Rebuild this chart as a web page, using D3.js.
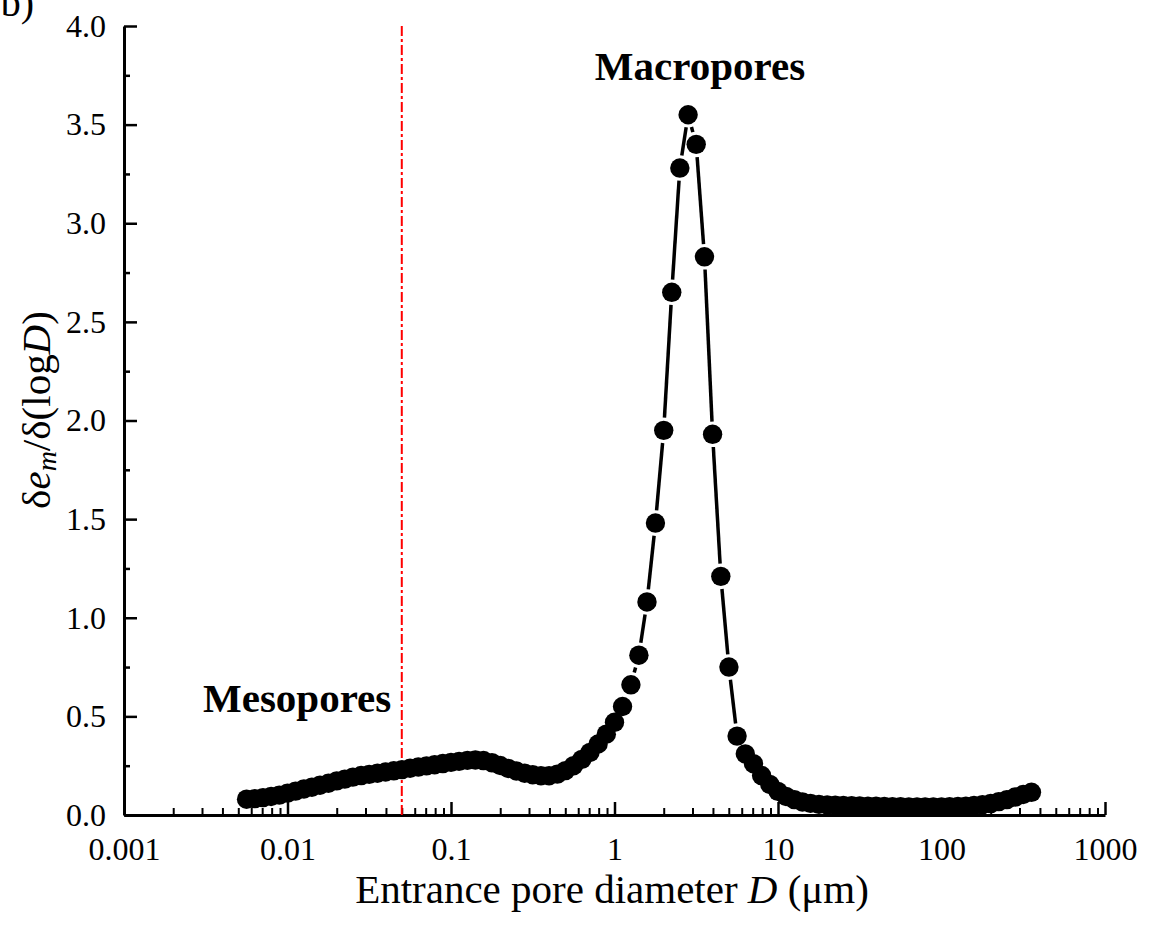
<!DOCTYPE html>
<html>
<head>
<meta charset="utf-8">
<script src="https://cdn.jsdelivr.net/npm/d3@7"></script>
<style>
  body { margin: 0; background: #fff; }
  svg text { font-family: 'Liberation Serif', 'Times New Roman', serif; fill: #000; }
</style>
</head>
<body>
<svg id="chart" width="1149" height="941"></svg>
<script>
// entrance pore diameter D (um)
var diameters = [
  0.00562, 0.00631, 0.00708, 0.00794, 0.00891,
  0.0100, 0.0112, 0.0126, 0.0141, 0.0158, 0.0178, 0.0200, 0.0224, 0.0251, 0.0282,
  0.0316, 0.0355, 0.0398, 0.0447, 0.0501, 0.0562, 0.0631, 0.0708, 0.0794, 0.0891,
  0.100, 0.112, 0.126, 0.141, 0.158, 0.178, 0.200, 0.224, 0.251, 0.282,
  0.316, 0.355, 0.398, 0.447, 0.501, 0.562, 0.631, 0.708, 0.794, 0.891,
  1.00, 1.12, 1.26, 1.41, 1.58, 1.78, 2.00, 2.24, 2.51, 2.82,
  3.16, 3.55, 3.98, 4.47, 5.01, 5.62, 6.31, 7.08, 7.94, 8.91,
  10.0, 11.2, 12.6, 14.1, 15.8, 17.8, 20.0, 22.4, 25.1, 28.2,
  31.6, 35.5, 39.8, 44.7, 50.1, 56.2, 63.1, 70.8, 79.4, 89.1,
  100, 112, 126, 141, 158, 178, 200, 224, 251, 282, 316, 355
];

// de_m / d(logD)
var poreDensity = [
  0.080, 0.083, 0.088, 0.094, 0.101,
  0.111, 0.121, 0.132, 0.141, 0.151, 0.161, 0.173, 0.182, 0.192, 0.200,
  0.206, 0.212, 0.218, 0.224, 0.230, 0.237, 0.243, 0.249, 0.255, 0.261,
  0.267, 0.272, 0.277, 0.279, 0.276, 0.265, 0.251, 0.236, 0.223, 0.212,
  0.204, 0.199, 0.199, 0.207, 0.225, 0.250, 0.282, 0.317, 0.360, 0.410,
  0.47, 0.55, 0.66, 0.81, 1.08, 1.48, 1.95, 2.65, 3.28, 3.55,
  3.40, 2.83, 1.93, 1.21, 0.75, 0.40, 0.31, 0.26, 0.20, 0.155,
  0.120, 0.094, 0.078, 0.066, 0.059, 0.054, 0.051, 0.050, 0.048, 0.047,
  0.046, 0.045, 0.044, 0.043, 0.042, 0.042, 0.041, 0.041, 0.041, 0.041,
  0.041, 0.042, 0.043, 0.045, 0.048, 0.052, 0.058, 0.068, 0.078, 0.091, 0.104, 0.115
];

var xTicks = [0.001, 0.01, 0.1, 1, 10, 100, 1000];
var xTickLabels = ['0.001', '0.01', '0.1', '1', '10', '100', '1000'];
var yTicks = [0, 0.5, 1.0, 1.5, 2.0, 2.5, 3.0, 3.5, 4.0];
var yMinorTicks = [0.25, 0.75, 1.25, 1.75, 2.25, 2.75, 3.25, 3.75];
var boundaryD = 0.05;   // meso / macro boundary

(function() {
  var svg = d3.select('#chart');

  var plotLeft = 124, plotRight = 1105, plotTop = 26, plotBottom = 815;

  // scales
  var x = d3.scaleLog().domain([0.001, 1000]).range([plotLeft, plotRight]);
  var y = d3.scaleLinear().domain([0, 4]).range([plotBottom, plotTop]);

  // minor x ticks 2..9 of each decade
  var xMinor = [];
  xTicks.slice(0, -1).forEach(function(d) {
    for (var m = 2; m <= 9; m++) xMinor.push(d * m);
  });

  // x axis minor ticks
  svg.append('g')
    .attr('transform', 'translate(0,' + plotBottom + ')')
    .call(d3.axisBottom(x).tickValues(xMinor).tickSize(-7).tickSizeOuter(0).tickFormat(''))
    .call(function(g) { g.select('.domain').remove(); })
    .selectAll('line').attr('stroke', '#000').attr('stroke-width', 2);

  // x axis major
  var gx = svg.append('g')
    .attr('transform', 'translate(0,' + plotBottom + ')')
    .call(d3.axisBottom(x).tickValues(xTicks).tickSize(-13).tickSizeOuter(0).tickPadding(22)
      .tickFormat(function(d, i) { return xTickLabels[i]; }));
  gx.select('.domain').attr('stroke', '#000').attr('stroke-width', 3);
  gx.selectAll('line').attr('stroke', '#000').attr('stroke-width', 2.5);
  gx.selectAll('text').style('font-size', '32px').attr('fill', '#000');

  // y axis minor ticks
  svg.append('g')
    .attr('transform', 'translate(' + plotLeft + ',0)')
    .call(d3.axisLeft(y).tickValues(yMinorTicks).tickSize(-6).tickSizeOuter(0).tickFormat(''))
    .call(function(g) { g.select('.domain').remove(); })
    .selectAll('line').attr('stroke', '#000').attr('stroke-width', 2.5);

  // y axis major
  var gy = svg.append('g')
    .attr('transform', 'translate(' + plotLeft + ',0)')
    .call(d3.axisLeft(y).tickValues(yTicks).tickSize(-13).tickSizeOuter(0).tickPadding(18)
      .tickFormat(d3.format('.1f')));
  gy.select('.domain').attr('stroke', '#000').attr('stroke-width', 3);
  gy.selectAll('line').attr('stroke', '#000').attr('stroke-width', 2.5);
  gy.selectAll('text').style('font-size', '32px').attr('fill', '#000');

  // boundary line
  svg.append('line')
    .attr('x1', x(boundaryD)).attr('x2', x(boundaryD))
    .attr('y1', y(4)).attr('y2', y(0))
    .attr('stroke', '#ff0000')
    .attr('stroke-width', 2)
    .attr('stroke-dasharray', '10,3,3,3');

  // data points
  var pts = diameters.map(function(d, i) { return [x(d), y(poreDensity[i])]; });
  var r = 9.7, gap = r + 3;

  // connecting segments, leaving a gap round each symbol
  var segs = svg.append('g');
  for (var i = 1; i < pts.length; i++) {
    var p0 = pts[i - 1], p1 = pts[i];
    var dx = p1[0] - p0[0], dy = p1[1] - p0[1];
    var len = Math.sqrt(dx * dx + dy * dy);
    if (len <= 2 * gap) continue;
    var ux = dx / len, uy = dy / len;
    segs.append('line')
      .attr('x1', p0[0] + ux * gap).attr('y1', p0[1] + uy * gap)
      .attr('x2', p1[0] - ux * gap).attr('y2', p1[1] - uy * gap)
      .attr('stroke', '#000')
      .attr('stroke-width', 3.5);
  }

  svg.append('g')
    .selectAll('circle')
    .data(pts)
    .enter().append('circle')
      .attr('cx', function(d) { return d[0]; })
      .attr('cy', function(d) { return d[1]; })
      .attr('r', r)
      .attr('fill', '#000');

  // annotations
  svg.append('text')
    .attr('x', 700).attr('y', 80)
    .attr('text-anchor', 'middle')
    .style('font-size', '41px').style('font-weight', 'bold')
    .text('Macropores');

  svg.append('text')
    .attr('x', 203).attr('y', 712)
    .style('font-size', '41px').style('font-weight', 'bold')
    .text('Mesopores');

  svg.append('text')
    .attr('x', 34).attr('y', 16)
    .attr('text-anchor', 'end')
    .style('font-size', '40px')
    .text('(b)');

  // axis titles
  var xt = svg.append('text')
    .attr('x', 612).attr('y', 903)
    .attr('text-anchor', 'middle')
    .style('font-size', '41px');
  xt.append('tspan').text('Entrance pore diameter ');
  xt.append('tspan').style('font-style', 'italic').text('D');
  xt.append('tspan').text(' (\u03bcm)');

  var yt = svg.append('text')
    .attr('transform', 'translate(50,410) rotate(-90)')
    .attr('text-anchor', 'middle')
    .style('font-size', '41px');
  yt.append('tspan').text('\u03b4');
  yt.append('tspan').style('font-style', 'italic').text('e');
  yt.append('tspan').style('font-style', 'italic').style('font-size', '28px').attr('dy', 6).text('m');
  yt.append('tspan').attr('dy', -6).text('/\u03b4(log');
  yt.append('tspan').style('font-style', 'italic').text('D');
  yt.append('tspan').text(')');
})();
</script>
</body>
</html>
